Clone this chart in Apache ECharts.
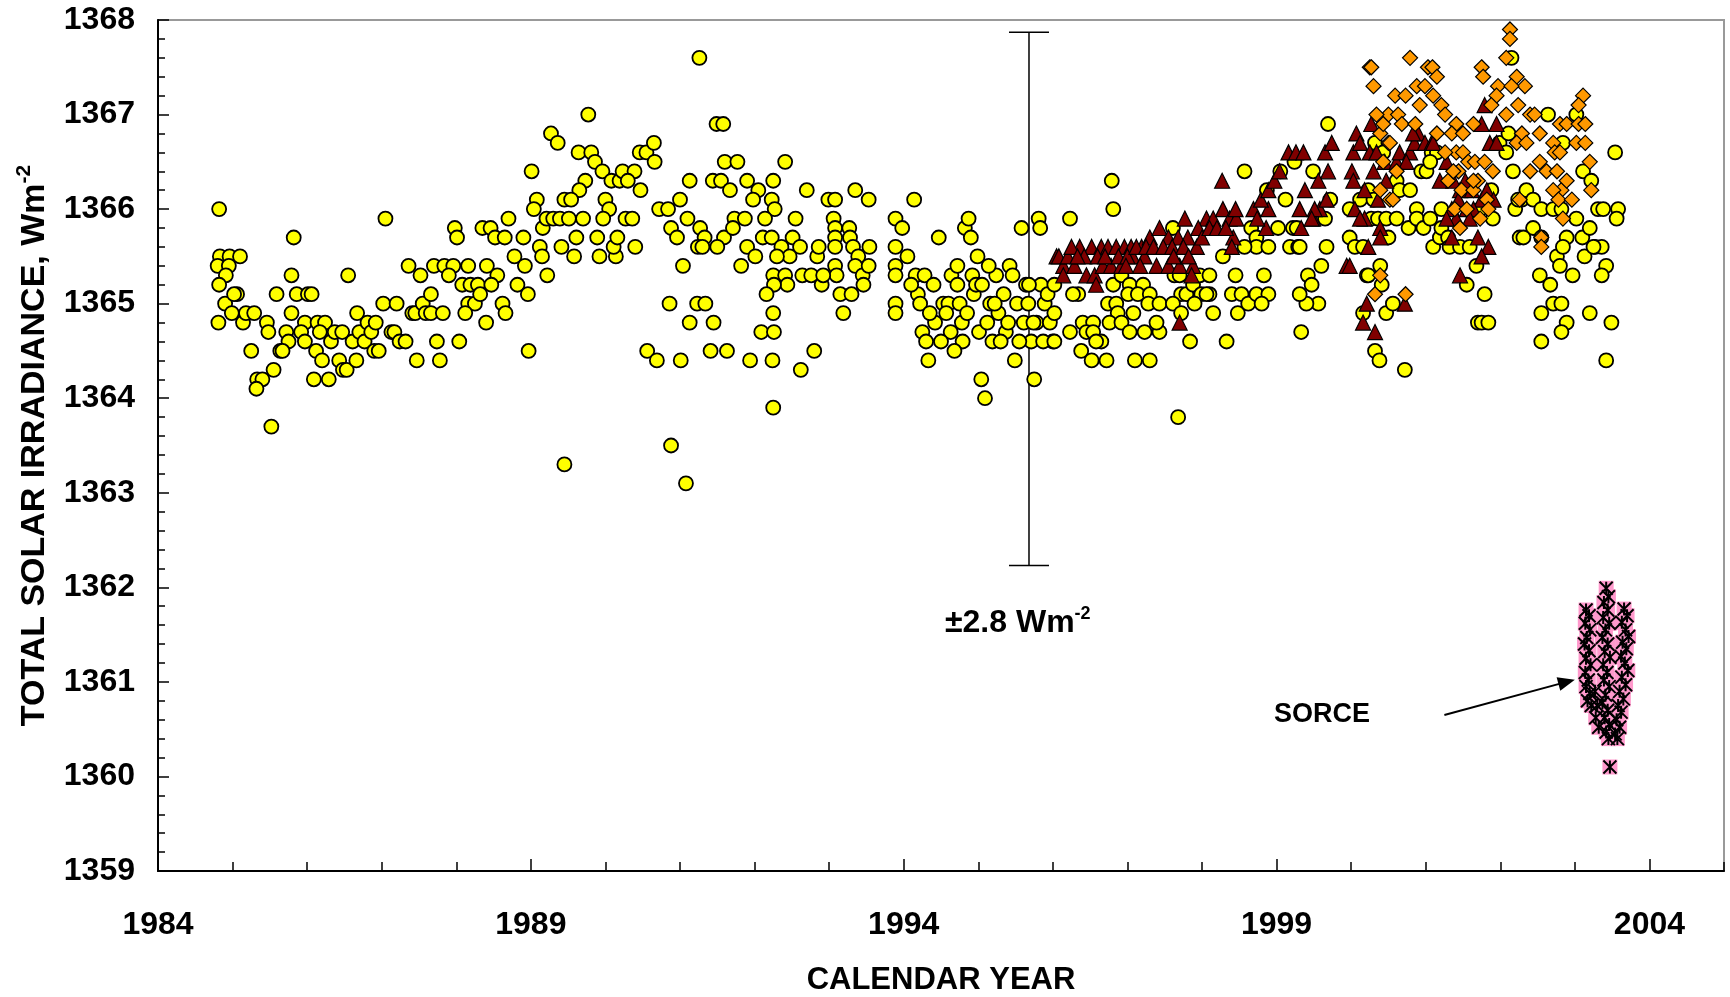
<!DOCTYPE html>
<html>
<head>
<meta charset="utf-8">
<title>Total solar irradiance</title>
<script src="https://cdn.jsdelivr.net/npm/echarts@6/dist/echarts.min.js"></script>
<style>
  html, body { margin: 0; padding: 0; background: #fff; }
  #chart { width: 1730px; height: 997px; }
</style>
</head>
<body>
<div id="chart"></div>
<script>
// axis ranges
var xMin = 1984, xMax = 2005;
var yMin = 1359, yMax = 1368;

// yellow circles [year, W/m2]
var erbs = [
  [1984.82,1366.0],[1984.83,1365.5],[1984.96,1365.5],[1985.10,1365.5],[1984.80,1365.4],[1984.95,1365.4],[1984.91,1365.3],[1984.82,1365.2],
  [1984.90,1365.0],[1985.06,1365.1],[1985.02,1365.1],[1984.81,1364.8],[1984.99,1364.9],[1985.14,1364.8],[1985.18,1364.9],[1985.29,1364.9],
  [1985.46,1364.8],[1985.48,1364.7],[1985.25,1364.5],[1985.33,1364.2],[1985.40,1364.2],[1985.32,1364.1],[1985.55,1364.3],[1985.52,1363.7],
  [1985.82,1365.7],[1985.79,1365.3],[1985.59,1365.1],[1985.86,1365.1],[1985.79,1364.9],[1985.72,1364.7],[1985.75,1364.6],[1985.64,1364.5],
  [1985.67,1364.5],[1985.97,1364.8],[1985.92,1364.7],[1985.97,1364.6],[1986.01,1365.1],[1986.06,1365.1],[1986.12,1364.5],[1986.20,1364.4],
  [1986.09,1364.2],[1986.29,1364.2],[1986.14,1364.8],[1986.24,1364.8],[1986.17,1364.7],[1986.32,1364.6],[1986.37,1364.7],[1986.47,1364.7],
  [1986.43,1364.4],[1986.48,1364.3],[1986.53,1364.3],[1986.66,1364.4],[1986.55,1365.3],[1986.67,1364.9],[1986.61,1364.6],[1986.70,1364.7],
  [1986.77,1364.6],[1986.81,1364.8],[1986.86,1364.7],[1986.92,1364.8],[1986.90,1364.5],[1986.96,1364.5],[1987.05,1365.9],[1987.02,1365.0],
  [1987.20,1365.0],[1987.13,1364.7],[1987.17,1364.7],[1987.24,1364.6],[1987.32,1364.6],[1987.36,1365.4],[1987.52,1365.3],[1987.41,1364.9],
  [1987.45,1364.9],[1987.55,1365.0],[1987.66,1365.1],[1987.59,1364.9],[1987.66,1364.9],[1987.82,1364.9],[1987.47,1364.4],[1987.74,1364.6],
  [1987.78,1364.4],[1987.70,1365.4],[1987.84,1365.4],[1987.96,1365.4],[1987.90,1365.3],[1988.16,1365.4],[1987.98,1365.8],[1988.01,1365.7],
  [1988.08,1365.2],[1988.19,1365.2],[1988.29,1365.2],[1988.16,1365.0],[1988.25,1365.0],[1988.32,1365.1],[1988.12,1364.9],[1988.04,1364.6],
  [1988.40,1364.8],[1988.41,1365.4],[1988.55,1365.3],[1988.47,1365.2],[1988.35,1365.8],[1988.46,1365.8],[1988.52,1365.7],
  [1991.26,1367.6],[1989.77,1367.0],[1989.27,1366.8],[1989.36,1366.7],[1989.64,1366.6],[1989.81,1366.6],[1989.86,1366.5],[1989.96,1366.4],
  [1989.01,1366.4],[1990.08,1366.3],[1990.19,1366.3],[1990.23,1366.4],[1990.39,1366.4],[1990.30,1366.3],[1990.46,1366.6],[1990.55,1366.6],
  [1990.65,1366.7],[1990.66,1366.5],[1990.47,1366.2],[1989.73,1366.3],[1989.65,1366.2],[1989.45,1366.1],[1989.54,1366.1],[1989.08,1366.1],
  [1989.04,1366.0],[1989.16,1365.8],[1989.21,1365.9],[1989.30,1365.9],[1989.39,1365.9],[1989.51,1365.9],[1989.70,1365.9],[1990.00,1366.1],
  [1990.05,1366.0],[1989.97,1365.9],[1990.27,1365.9],[1990.36,1365.9],[1988.70,1365.9],[1988.65,1365.7],[1988.90,1365.7],[1988.78,1365.5],
  [1988.92,1365.4],[1988.62,1365.0],[1988.66,1364.9],[1988.82,1365.2],[1988.96,1365.1],[1989.22,1365.3],[1989.12,1365.6],[1989.15,1365.5],
  [1989.41,1365.6],[1989.58,1365.5],[1989.61,1365.7],[1989.89,1365.7],[1989.92,1365.5],[1990.14,1365.5],[1990.11,1365.6],[1990.16,1365.7],
  [1990.40,1365.6],[1988.97,1364.5],[1990.72,1366.0],[1990.84,1366.0],[1991.00,1366.1],[1991.10,1365.9],[1990.88,1365.8],[1990.96,1365.7],
  [1991.04,1365.4],[1991.13,1366.3],[1991.27,1365.8],[1991.33,1365.7],[1991.24,1365.6],[1991.30,1365.6],[1991.44,1366.3],[1991.59,1365.7],
  [1991.50,1365.6],[1991.49,1366.9],[1991.58,1366.9],[1991.60,1366.5],[1991.77,1366.5],[1991.55,1366.3],[1991.67,1366.2],[1991.90,1366.3],
  [1992.05,1366.2],[1991.98,1366.1],[1992.25,1366.3],[1992.41,1366.5],[1992.23,1366.1],[1992.27,1366.0],[1992.14,1365.9],[1991.73,1365.9],
  [1991.87,1365.9],[1991.71,1365.8],[1992.11,1365.7],[1992.23,1365.7],[1991.90,1365.6],[1992.01,1365.5],[1991.82,1365.4],[1992.36,1365.6],
  [1992.55,1365.9],[1992.51,1365.7],[1992.61,1365.6],[1992.47,1365.5],[1992.30,1365.5],[1992.25,1365.3],[1992.41,1365.3],[1992.44,1365.2],
  [1992.26,1365.2],[1992.16,1365.1],[1992.25,1364.9],[1992.09,1364.7],[1992.26,1364.7],[1991.94,1364.4],[1992.24,1364.4],[1991.63,1364.5],
  [1991.41,1364.5],[1991.45,1364.8],[1991.23,1365.0],[1991.34,1365.0],[1991.13,1364.8],[1990.86,1365.0],[1990.56,1364.5],[1990.69,1364.4],
  [1991.01,1364.4],[1992.62,1364.3],[1992.80,1364.5],[1992.70,1366.2],[1992.64,1365.3],[1992.76,1365.3],[1992.90,1365.2],[1992.84,1365.5],
  [1992.86,1365.6],[1992.99,1366.1],[1993.08,1366.1],[1993.06,1365.9],[1993.08,1365.8],[1993.08,1365.7],[1993.08,1365.6],[1993.27,1365.8],
  [1993.28,1365.7],[1993.32,1365.6],[1993.39,1365.5],[1993.35,1365.4],[1993.08,1365.4],[1993.10,1365.3],[1992.92,1365.3],[1993.15,1365.1],
  [1993.30,1365.1],[1993.45,1365.3],[1993.54,1365.6],[1993.53,1365.4],[1993.46,1365.2],[1993.19,1364.9],[1993.35,1366.2],[1993.53,1366.1],
  [1993.89,1365.9],[1993.89,1365.6],[1993.89,1365.4],[1993.89,1365.3],[1993.89,1365.0],[1993.89,1364.9],[1992.25,1363.9],[1990.88,1363.5],
  [1989.45,1363.3],[1991.08,1363.1],
  [1993.98,1365.8],[1994.14,1366.1],[1994.16,1365.3],[1994.19,1365.1],[1994.25,1364.7],[1994.30,1364.6],[1994.33,1364.4],[1994.42,1364.8],
  [1994.47,1365.7],[1994.53,1365.0],[1994.60,1365.0],[1994.63,1364.7],[1994.64,1365.3],[1994.72,1365.4],[1994.72,1365.2],[1994.75,1365.0],
  [1994.78,1364.8],[1994.79,1364.6],[1994.82,1365.8],[1994.87,1365.9],[1994.90,1365.7],[1994.92,1365.3],[1994.94,1365.1],[1994.97,1365.2],
  [1994.99,1365.5],[1995.01,1364.7],[1995.04,1364.2],[1995.09,1364.0],[1995.12,1364.8],[1995.16,1365.0],[1995.19,1364.6],[1995.24,1365.3],
  [1995.27,1364.9],[1995.34,1365.1],[1995.37,1364.7],[1995.42,1365.4],[1995.46,1365.3],[1995.49,1364.4],[1995.52,1365.0],[1995.58,1365.8],
  [1995.61,1364.8],[1995.64,1365.2],[1995.67,1365.0],[1995.71,1364.6],[1995.75,1364.2],[1995.78,1364.8],[1995.81,1365.9],[1995.83,1365.8],
  [1995.84,1365.2],[1995.89,1365.0],[1995.93,1365.1],[1995.96,1364.8],[1996.00,1364.6],
  [1994.05,1365.5],[1994.10,1365.2],[1994.22,1365.0],[1994.28,1365.3],[1994.35,1364.9],[1994.40,1365.2],[1994.50,1364.6],[1994.57,1364.9],
  [1994.68,1364.5],[1994.85,1364.9],[1995.05,1365.2],[1995.14,1365.4],[1995.22,1365.0],[1995.30,1364.6],[1995.40,1364.8],[1995.55,1364.6],
  [1995.68,1365.2],[1995.74,1364.8],[1995.87,1364.6],
  [1996.23,1365.9],[1996.81,1366.0],[1996.02,1365.2],[1996.02,1364.9],[1996.02,1364.6],[1996.23,1364.7],[1996.34,1365.1],[1996.27,1365.1],
  [1996.40,1364.8],[1996.54,1364.8],[1996.45,1364.7],[1996.54,1364.7],[1996.65,1364.6],[1996.58,1364.6],[1996.38,1364.5],[1996.52,1364.4],
  [1996.72,1364.4],[1996.81,1365.2],[1996.92,1365.3],[1997.03,1365.2],[1997.21,1365.2],[1997.01,1365.1],[1997.14,1365.1],[1997.30,1365.1],
  [1996.74,1365.0],[1996.85,1365.0],[1996.87,1364.9],[1997.08,1364.9],[1996.76,1364.8],[1996.92,1364.8],[1997.03,1364.7],[1997.23,1364.7],
  [1997.43,1364.7],[1997.39,1364.8],[1997.10,1364.4],[1997.30,1364.4],[1997.28,1365.0],[1997.43,1365.0],[1997.63,1365.3],[1997.72,1365.1],
  [1997.61,1365.0],[1997.72,1364.9],[1997.84,1364.6],[1997.70,1365.3],[1997.79,1365.1],[1997.88,1365.2],[1997.97,1365.3],[1998.10,1365.3],
  [1998.10,1365.1],[1997.99,1365.1],[1997.90,1365.0],[1998.06,1365.1],[1997.61,1365.8],[1998.15,1364.9],[1998.28,1365.5],[1998.45,1365.3],
  [1998.33,1364.6],[1998.40,1365.1],[1998.53,1365.1],[1998.48,1364.9],[1998.62,1365.0],[1998.73,1365.1],[1998.89,1365.1],[1998.80,1365.0],
  [1998.83,1365.3],[1998.66,1365.8],[1998.73,1365.7],[1998.73,1365.6],[1998.57,1365.6],[1998.89,1365.6],[1999.02,1365.8],[1999.18,1365.6],
  [1999.29,1365.6],[1999.22,1365.8],[1999.27,1365.8],[1997.68,1363.8],
  [1996.79,1366.3],[1998.57,1366.4],[1998.87,1366.2],[1999.05,1366.4],[1999.12,1366.1],[1999.24,1366.5],
  [1999.69,1366.9],[1999.49,1366.4],[1999.72,1366.1],[1999.65,1365.9],[1999.31,1365.6],[1999.60,1365.4],[1999.42,1365.3],[1999.47,1365.2],
  [1999.56,1365.0],[1999.40,1365.0],[1999.31,1365.1],[1999.33,1364.7],[1999.67,1365.6],[1999.98,1366.0],[2000.12,1366.1],[1999.98,1365.7],
  [2000.05,1365.6],[2000.16,1365.6],[2000.21,1365.3],[2000.23,1365.3],[2000.39,1365.4],[2000.41,1365.2],[2000.16,1364.9],[2000.32,1364.5],
  [2000.38,1364.4],[2000.72,1364.3],[2000.47,1364.9],[2000.56,1365.0],[2000.23,1366.2],[2000.30,1366.1],[2000.27,1365.9],[2000.36,1365.9],
  [2000.32,1366.7],[2000.43,1366.6],[2000.61,1366.3],[2000.65,1366.2],[2000.79,1366.2],[2000.47,1365.9],[2000.50,1365.7],[2000.61,1365.9],
  [2000.77,1365.8],[2000.88,1366.0],[2000.88,1365.9],[2000.97,1365.8],[2001.06,1365.9],[2000.94,1366.4],[2001.01,1366.4],[2001.08,1366.6],
  [2001.15,1366.6],[2001.06,1366.5],[2001.10,1365.6],[2001.19,1365.7],[2001.21,1365.8],[2001.21,1366.0],[2001.30,1365.7],[2001.32,1365.6],
  [2001.46,1365.6],[2001.59,1365.6],[2001.68,1365.4],[2001.55,1365.2],[2001.79,1365.1],[2001.70,1364.8],[2001.75,1364.8],[2001.84,1364.8],
  [2001.90,1365.9],[2001.73,1366.0],[2001.88,1366.2],[2001.99,1366.7],[2002.08,1366.6],[2002.15,1367.6],[2002.11,1366.8],[2002.20,1366.0],
  [2002.29,1366.1],[2002.17,1366.4],[2002.24,1366.1],[2002.35,1366.2],[2002.44,1366.1],[2002.55,1366.0],[2002.44,1365.8],[2002.26,1365.7],
  [2002.31,1365.7],[2002.64,1367.0],[2002.84,1366.7],[2002.71,1366.0],[2002.82,1366.0],[2002.55,1365.7],[2002.76,1365.5],[2002.89,1365.7],
  [2002.84,1365.6],[2002.80,1365.4],[2002.53,1365.3],[2002.67,1365.2],[2002.71,1365.0],[2002.82,1365.0],[2002.55,1364.9],[2002.55,1364.6],
  [2002.89,1364.8],[2002.82,1364.7],[2002.97,1365.3],[2003.02,1365.9],[2003.10,1365.7],[2003.20,1365.8],[2003.13,1365.5],[2003.27,1365.6],
  [2003.36,1365.6],[2003.25,1365.6],[2003.20,1364.9],[2003.49,1364.8],[2003.42,1364.4],[2003.42,1365.4],[2003.36,1365.3],[2003.11,1366.4],
  [2003.22,1366.3],[2003.31,1366.0],[2003.38,1366.0],[2003.58,1366.0],[2003.56,1365.9],[2003.54,1366.6],[2003.02,1367.0]
];

// dark red triangles
var acrim = [
  [1996.36,1365.6],[1996.52,1365.6],[1996.65,1365.6],[1996.74,1365.6],[1996.85,1365.6],[1996.96,1365.6],[1997.05,1365.6],[1997.19,1365.6],
  [1997.30,1365.7],[1997.43,1365.8],[1997.55,1365.7],[1997.68,1365.7],[1997.77,1365.9],[1997.81,1365.7],[1997.93,1365.6],[1998.06,1365.9],
  [1998.15,1365.9],[1998.28,1366.0],[1998.37,1365.9],[1998.46,1365.9],[1998.42,1365.7],[1998.40,1365.6],[1996.05,1365.5],[1996.14,1365.4],
  [1996.14,1365.3],[1996.29,1365.4],[1996.45,1365.3],[1996.56,1365.3],[1996.67,1365.4],[1996.78,1365.4],[1996.92,1365.4],[1997.07,1365.5],
  [1997.23,1365.5],[1997.39,1365.4],[1997.55,1365.4],[1997.70,1365.4],[1997.88,1365.4],[1996.58,1365.2],[1997.86,1365.3],[1997.70,1364.8],
  [1998.89,1366.0],[1998.86,1365.8],[1999.33,1365.8],[1999.49,1365.9],[1999.58,1366.0],[1999.94,1365.4],
  [1996.08,1365.5],[1996.20,1365.5],[1996.25,1365.6],[1996.42,1365.5],[1996.60,1365.5],[1996.70,1365.5],[1996.88,1365.5],[1997.00,1365.5],
  [1997.12,1365.6],[1997.25,1365.6],[1997.35,1365.6],[1997.48,1365.6],[1997.60,1365.6],[1997.75,1365.6],[1997.95,1365.8],[1998.00,1365.7],
  [1998.10,1365.8],[1998.20,1365.8],[1998.32,1365.8],[1997.62,1365.5],[1997.82,1365.5],[1996.33,1365.5],[1997.17,1365.4],[1996.98,1365.4],
  [1998.27,1366.3],[1998.45,1366.0],[1998.69,1366.0],[1998.74,1365.9],[1998.79,1366.1],[1998.89,1366.2],[1998.97,1366.3],[1999.04,1366.4],
  [1999.16,1366.6],[1999.26,1366.6],
  [1999.36,1366.6],[1999.65,1366.6],[1999.69,1366.4],[1999.56,1366.3],[1999.38,1366.2],[1999.74,1366.7],[1999.67,1366.1],[1999.51,1366.0],
  [1999.47,1365.9],[1999.31,1366.0],[2000.07,1366.8],[2000.03,1366.6],[2000.12,1366.7],[2000.01,1366.4],[2000.03,1366.3],[2000.18,1366.2],
  [2000.05,1366.0],[2000.18,1365.9],[2000.12,1365.9],[2000.23,1365.6],[1999.98,1365.4],[2000.27,1366.9],[2000.25,1366.6],[2000.34,1366.6],
  [2000.30,1366.4],[2000.45,1366.5],[2000.47,1366.3],[2000.61,1366.5],[2000.65,1366.6],[2000.79,1366.6],[2000.74,1366.5],[2000.90,1366.8],
  [2000.85,1366.7],[2000.99,1366.7],[2001.08,1366.7],[2001.10,1366.7],[2001.28,1366.5],[2001.19,1366.3],[2001.37,1366.3],[2001.46,1366.2],
  [2001.53,1366.3],[2001.44,1366.1],[2001.62,1366.2],[2001.75,1366.1],[2001.82,1366.2],[2001.91,1366.1],[2001.35,1366.0],[2001.41,1365.9],
  [2001.55,1366.0],[2001.64,1366.0],[2001.28,1365.9],[2001.35,1365.7],[2001.59,1365.9],[2001.79,1367.1],[2001.75,1366.9],[2001.86,1366.7],
  [2001.95,1366.7],[2001.95,1366.9],[2001.70,1365.7],[2001.84,1365.6],[2001.75,1365.5],[2001.46,1365.3],[2000.39,1365.8],[2000.36,1366.1],
  [2000.21,1365.0],[2000.16,1364.8],[2000.32,1364.7],[2000.72,1365.0],[2000.39,1365.7],[2000.83,1366.8]
];

// orange diamonds
var acrim3 = [
  [2000.25,1367.5],[2000.27,1367.5],[2000.30,1367.3],[2000.79,1367.6],[2001.03,1367.5],[2001.09,1367.5],[2001.15,1367.4],[2000.59,1367.2],
  [2000.73,1367.2],[2000.88,1367.3],[2000.99,1367.3],[2001.10,1367.2],[2000.92,1367.1],[2000.50,1367.0],[2000.34,1367.0],[2000.63,1367.0],
  [2000.39,1366.8],[2000.50,1366.7],[2000.68,1366.9],[2001.21,1367.1],[2001.26,1367.0],[2001.41,1366.9],[2001.15,1366.8],[2001.35,1366.8],
  [2001.50,1366.8],[2001.64,1366.9],[2001.75,1367.5],[2001.77,1367.4],[2001.97,1367.3],[2001.95,1367.2],[2002.13,1367.9],[2002.13,1367.8],
  [2002.08,1367.6],[2002.22,1367.4],[2002.33,1367.3],[2002.15,1367.3],[2002.24,1367.1],[2002.08,1367.0],[2001.88,1367.1],[2002.40,1367.0],
  [2002.46,1367.0],[2002.53,1366.8],[2002.29,1366.8],[2002.22,1366.7],[2002.35,1366.7],[2001.41,1366.6],[2001.26,1366.6],[2001.50,1366.6],
  [2001.57,1366.5],[2001.66,1366.5],[2001.79,1366.5],[2001.90,1366.4],[2001.44,1366.4],[2001.30,1366.3],[2001.39,1366.0],[2001.48,1366.2],
  [2001.64,1366.2],[2001.70,1366.3],[2001.82,1366.1],[2001.84,1366.0],[2001.73,1365.9],[2001.46,1365.8],[2002.40,1366.4],[2002.53,1366.5],
  [2002.62,1366.4],[2002.71,1366.7],[2002.73,1366.6],[2002.80,1366.6],[2002.76,1366.4],[2002.82,1366.2],[2002.89,1366.3],[2002.71,1366.2],
  [2002.78,1366.1],[2002.96,1366.1],[2002.84,1365.9],[2002.80,1366.9],[2002.89,1366.9],[2003.05,1366.9],[2003.11,1367.2],[2003.05,1367.1],
  [2003.14,1366.9],[2003.02,1366.7],[2003.14,1366.7],[2003.20,1366.5],[2003.22,1366.2],[2002.55,1365.7],[2002.55,1365.6],[2002.26,1366.1],
  [2000.39,1366.2],[2000.43,1366.5],[2000.52,1366.1],[2000.56,1366.1],[2000.39,1365.3],[2000.32,1365.1],[2000.73,1365.1],[2000.43,1366.9],
  [2000.61,1366.4],[2001.37,1366.4],[2001.64,1366.3],[2001.55,1366.0],[2000.52,1366.7],[2000.86,1366.9]
];

// pink asterisks (SORCE)
var sorce = [
  [2003.15,1361.76],[2003.19,1361.70],[2003.14,1361.62],[2003.20,1361.55],[2003.16,1361.47],[2003.13,1361.40],[2003.19,1361.33],[2003.15,1361.25],
  [2003.21,1361.18],[2003.14,1361.10],[2003.18,1361.02],[2003.15,1360.95],[2003.20,1360.88],[2003.17,1360.80],[2003.22,1360.75],
  [2003.27,1360.90],[2003.30,1360.75],[2003.28,1360.62],[2003.32,1360.52],
  [2003.42,1361.99],[2003.45,1361.90],[2003.39,1361.84],[2003.44,1361.76],[2003.38,1361.68],[2003.46,1361.62],[2003.41,1361.55],[2003.37,1361.47],
  [2003.44,1361.40],[2003.40,1361.32],[2003.47,1361.26],[2003.38,1361.18],[2003.43,1361.10],[2003.39,1361.02],[2003.46,1360.95],[2003.41,1360.86],
  [2003.37,1360.78],[2003.44,1360.70],[2003.40,1360.62],[2003.46,1360.55],[2003.42,1360.47],[2003.45,1360.40],
  [2003.66,1361.77],[2003.70,1361.70],[2003.63,1361.63],[2003.68,1361.55],[2003.72,1361.48],[2003.64,1361.42],[2003.69,1361.35],[2003.62,1361.27],
  [2003.67,1361.20],[2003.71,1361.12],[2003.63,1361.05],[2003.68,1360.97],[2003.60,1360.90],[2003.65,1360.82],[2003.58,1360.75],[2003.62,1360.68],
  [2003.56,1360.60],[2003.60,1360.52],[2003.54,1360.45],[2003.57,1360.40],
  [2003.47,1360.10]
];

// uncertainty bar: [year, centre, half-range]
var errBar = [[1995.68, 1365.05, 2.82]];
// arrow to the SORCE points: [from, to]
var sorceArrow = [[2001.25, 1360.65], [2002.89, 1361.0]];

var FONT = '"Liberation Sans", Arial, Helvetica, sans-serif';
var tickStyle = { color: '#000', width: 1.5 };
function plain(v) { return String(v); }

var chart = echarts.init(document.getElementById('chart'));

chart.setOption({
  animation: false,
  backgroundColor: '#fff',
  textStyle: { fontFamily: FONT },
  grid: {
    left: 158, right: 6, top: 20, bottom: 126,
    containLabel: false, outerBoundsMode: 'none',
    show: true, borderColor: '#999', borderWidth: 2, backgroundColor: '#fff'
  },
  xAxis: [
    {
      type: 'value', min: xMin, max: xMax, interval: 1, position: 'bottom',
      axisLine: { lineStyle: { color: '#000', width: 2 } },
      axisTick: { inside: true, length: 9, lineStyle: tickStyle },
      axisLabel: { show: false },
      splitLine: { show: false },
      name: 'CALENDAR YEAR', nameLocation: 'middle', nameGap: 94,
      nameTextStyle: { fontSize: 31, fontWeight: 'bold', color: '#000', fontFamily: FONT }
    },
    {
      type: 'value', min: xMin, max: xMax, interval: 5, position: 'bottom',
      axisLine: { show: false },
      axisTick: { inside: true, length: 12, lineStyle: tickStyle },
      axisLabel: { fontSize: 32, fontWeight: 'bold', color: '#000', margin: 38, showMaxLabel: false, fontFamily: FONT, formatter: plain },
      splitLine: { show: false }
    }
  ],
  yAxis: {
    type: 'value', min: yMin, max: yMax, interval: 1,
    axisLine: { show: true, lineStyle: { color: '#000', width: 2 } },
    axisTick: { inside: true, length: 11, lineStyle: tickStyle },
    minorTick: { show: true, splitNumber: 5, length: 7, lineStyle: tickStyle },
    axisLabel: { fontSize: 32, fontWeight: 'bold', color: '#000', margin: 23, fontFamily: FONT, formatter: plain },
    splitLine: { show: false },
    name: '{b|TOTAL SOLAR IRRADIANCE, Wm}{sup|-2}',
    nameLocation: 'middle', nameGap: 106, nameRotate: 90,
    nameTextStyle: {
      color: '#000',
      rich: {
        b: { fontSize: 34, fontWeight: 'bold', fontFamily: FONT, color: '#000', lineHeight: 38, verticalAlign: 'bottom' },
        sup: { fontSize: 21, fontWeight: 'bold', fontFamily: FONT, color: '#000', lineHeight: 21, verticalAlign: 'top' }
      }
    }
  },
  series: [
    {
      name: 'yellow', type: 'scatter', data: erbs,
      symbol: 'circle', symbolSize: 14,
      itemStyle: { color: '#FFFF00', borderColor: '#000', borderWidth: 1.8, opacity: 1 }
    },
    {
      name: 'triangles', type: 'scatter', data: acrim,
      symbol: 'triangle', symbolSize: 15,
      itemStyle: { color: '#800000', borderColor: '#000', borderWidth: 1.2, opacity: 1 }
    },
    {
      name: 'diamonds', type: 'scatter', data: acrim3,
      symbol: 'diamond', symbolSize: 15,
      itemStyle: { color: '#FF9900', borderColor: '#000', borderWidth: 1.2, opacity: 1 }
    },
    {
      name: 'SORCE', type: 'scatter', data: sorce,
      symbol: 'rect', symbolSize: 15,
      itemStyle: { color: '#FF99CC', borderWidth: 0, opacity: 1 },
      markLine: {
        silent: true, animation: false,
        symbol: ['none', 'triangle'], symbolSize: [14, 17],
        label: { show: false },
        lineStyle: { color: '#000', width: 2, type: 'solid' },
        data: [[{ coord: sorceArrow[0] }, { coord: sorceArrow[1] }]]
      }
    },
    {
      name: 'SORCE star', type: 'scatter', data: sorce,
      symbol: 'path://M0,0L10,10M10,0L0,10M5,0L5,10', symbolSize: 13,
      itemStyle: { color: 'rgba(0,0,0,0)', borderColor: '#000', borderWidth: 2, opacity: 1 }
    },
    {
      name: 'uncertainty', type: 'custom', data: errBar,
      renderItem: function (params, api) {
        var x = api.value(0), c = api.value(1), h = api.value(2);
        var top = api.coord([x, c + h]);
        var bot = api.coord([x, c - h]);
        var hw = 20;
        var st = { stroke: '#000', lineWidth: 1.5 };
        return {
          type: 'group',
          children: [
            { type: 'line', shape: { x1: top[0], y1: top[1], x2: bot[0], y2: bot[1] }, style: st },
            { type: 'line', shape: { x1: top[0] - hw, y1: top[1], x2: top[0] + hw, y2: top[1] }, style: st },
            { type: 'line', shape: { x1: bot[0] - hw, y1: bot[1], x2: bot[0] + hw, y2: bot[1] }, style: st }
          ]
        };
      }
    }
  ],
  graphic: [
    {
      type: 'text', left: 945, top: 605, silent: true,
      style: {
        text: '{b|±2.8 Wm}{sup|-2}',
        fill: '#000',
        rich: {
          b: { fontSize: 32, fontWeight: 'bold', fontFamily: FONT, fill: '#000', lineHeight: 34, verticalAlign: 'bottom' },
          sup: { fontSize: 18, fontWeight: 'bold', fontFamily: FONT, fill: '#000', lineHeight: 18, verticalAlign: 'top' }
        }
      }
    },
    {
      type: 'text', left: 1274, top: 701, silent: true,
      style: { text: 'SORCE', fill: '#000', font: 'bold 27px ' + FONT }
    }
  ]
});
</script>
</body>
</html>
